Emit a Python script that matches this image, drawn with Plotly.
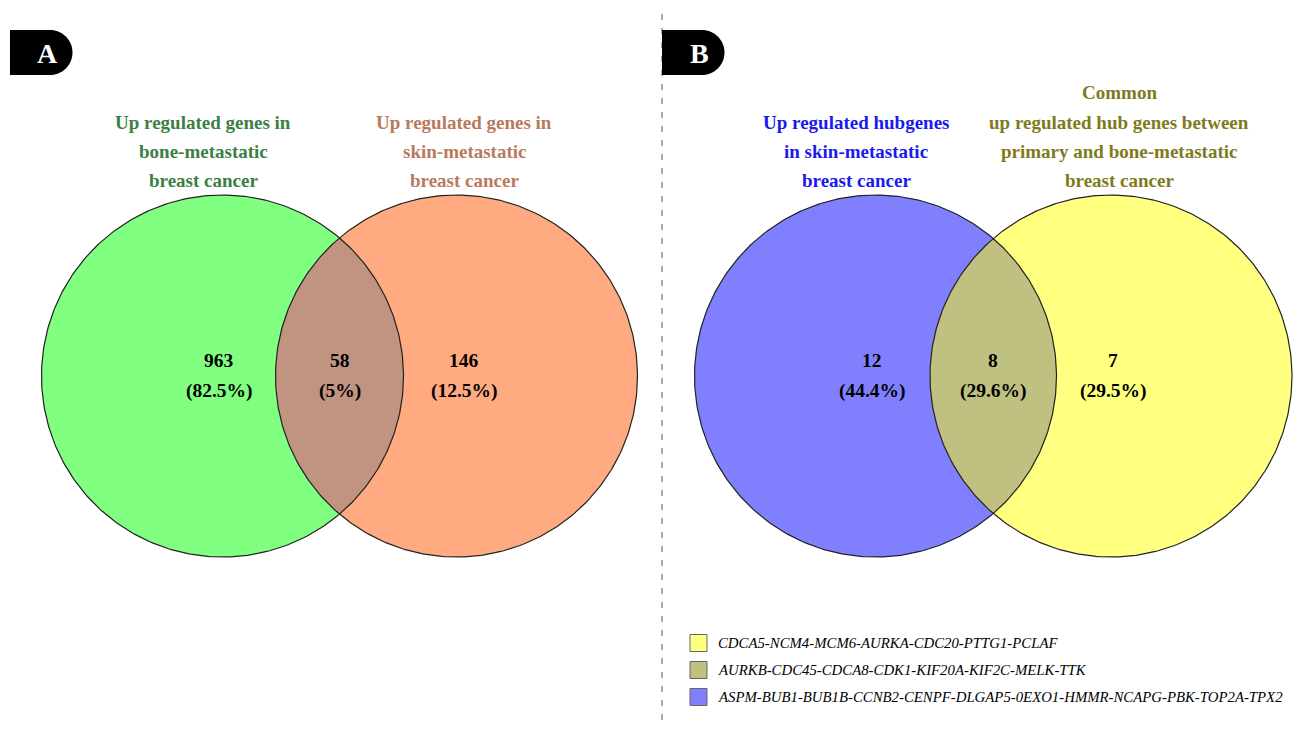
import numpy as np
import plotly.graph_objects as go

# ---------------- data ----------------
setA_names = ["Up regulated genes in<br>bone-metastatic<br>breast cancer",
              "Up regulated genes in<br>skin-metastatic<br>breast cancer"]
setA_counts = [963, 58, 146]
setA_pcts = ["82.5%", "5%", "12.5%"]

setB_names = ["Up regulated hubgenes<br>in skin-metastatic<br>breast cancer",
              "Common<br>up regulated hub genes between<br>primary and bone-metastatic<br>breast cancer"]
setB_counts = [12, 8, 7]
setB_pcts = ["44.4%", "29.6%", "29.5%"]

legend_labels = ["CDCA5-NCM4-MCM6-AURKA-CDC20-PTTG1-PCLAF",
                 "AURKB-CDC45-CDCA8-CDK1-KIF20A-KIF2C-MELK-TTK",
                 "ASPM-BUB1-BUB1B-CCNB2-CENPF-DLGAP5-0EXO1-HMMR-NCAPG-PBK-TOP2A-TPX2"]
legend_colors = ["#ffff80", "#c0c080", "#8080ff"]

panel_letters = ["A", "B"]

# ---------------- layout constants ----------------
W, H = 1301, 731
PAD = 8  # default page body margin
R = 181
CY = 376
panels = [
    dict(c1=222.5, c2=456.5, fills=["#80ff80", "#ffaa80", "#c09480"],
         tcol=["#3b7f45", "#b97a5c"], tx=[203, 464], tys=[[122, 151, 180], [122, 151, 180]],
         nx=[219, 340, 464], names=setA_names, counts=setA_counts, pcts=setA_pcts,
         badge_x=10),
    dict(c1=875.5, c2=1111, fills=["#8080ff", "#ffff80", "#c0c080"],
         tcol=["#1a1aee", "#7f7a1c"], tx=[856, 1119], tys=[[122, 151, 180], [92, 122, 151, 180]],
         nx=[872, 993, 1113], names=setB_names, counts=setB_counts, pcts=setB_pcts,
         badge_x=662),
]

fig = go.Figure()
shapes = []
annotations = []

t = np.linspace(0, 2 * np.pi, 400)

def lens(c1, c2, r, cy):
    d = c2 - c1
    a = np.arccos(d / 2 / r)
    th2 = np.linspace(np.pi - a, np.pi + a, 200)
    th1 = np.linspace(-a, a, 200)
    xs = np.concatenate([c2 + r * np.cos(th2), c1 + r * np.cos(th1)])
    ys = np.concatenate([cy + r * np.sin(th2), cy + r * np.sin(th1)])
    return xs, ys

for p in panels:
    for cx, col in zip([p["c1"], p["c2"]], p["fills"][:2]):
        fig.add_trace(go.Scatter(x=cx + R * np.cos(t), y=CY + R * np.sin(t), mode="lines",
                                 fill="toself", fillcolor=col, line=dict(color="rgba(0,0,0,0)", width=0),
                                 hoverinfo="skip", showlegend=False))
    lx, ly = lens(p["c1"], p["c2"], R, CY)
    fig.add_trace(go.Scatter(x=lx, y=ly, mode="lines", fill="toself", fillcolor=p["fills"][2],
                             line=dict(color="rgba(0,0,0,0)", width=0), hoverinfo="skip", showlegend=False))
    for cx in [p["c1"], p["c2"]]:
        fig.add_trace(go.Scatter(x=cx + R * np.cos(t), y=CY + R * np.sin(t), mode="lines",
                                 line=dict(color="#222222", width=1.2), hoverinfo="skip", showlegend=False))
    for name, col, x, ys in zip(p["names"], p["tcol"], p["tx"], p["tys"]):
        for line, y in zip(name.split("<br>"), ys):
            annotations.append(dict(x=x, y=y, text="<b>%s</b>" % line, showarrow=False,
                                    font=dict(family="Liberation Serif", size=19, color=col),
                                    xanchor="center", yanchor="middle"))
    for x, c, pc in zip(p["nx"], p["counts"], p["pcts"]):
        annotations.append(dict(x=x, y=360, text="<b>%d</b>" % c, showarrow=False,
                                font=dict(family="Liberation Serif", size=19.5, color="black")))
        annotations.append(dict(x=x, y=391, text="<b>(%s)</b>" % pc, showarrow=False,
                                font=dict(family="Liberation Serif", size=19.5, color="black")))

# dashed separator
shapes.append(dict(type="line", x0=662, x1=662, y0=0, y1=740, xref="x", yref="y",
                   line=dict(color="#555555", width=1, dash="6px,8px")))

# panel badges
k = 0.5523
for letter, p in zip(panel_letters, panels):
    x0 = p["badge_x"]
    y0, y1 = 30, 75
    r = (y1 - y0) / 2
    xr = x0 + 40
    cyb = y0 + r
    path = (f"M{x0},{y0} L{xr},{y0} "
            f"C{xr + k * r},{y0} {xr + r},{cyb - k * r} {xr + r},{cyb} "
            f"C{xr + r},{cyb + k * r} {xr + k * r},{y1} {xr},{y1} "
            f"L{x0},{y1} Z")
    shapes.append(dict(type="path", path=path, xref="x", yref="y", fillcolor="black",
                       line=dict(color="black", width=0)))
    annotations.append(dict(x=x0 + 37, y=cyb + 1, text="<b>%s</b>" % letter, showarrow=False,
                            font=dict(family="Liberation Serif", size=28, color="white")))

# gene legend
for i, (lab, col) in enumerate(zip(legend_labels, legend_colors)):
    yc = 643 + i * 27
    shapes.append(dict(type="rect", x0=690, x1=707, y0=yc - 8.5, y1=yc + 8.5, xref="x", yref="y",
                       fillcolor=col, line=dict(color="#666666", width=1)))
    annotations.append(dict(x=716, y=yc, text="<i>%s</i>" % lab, showarrow=False, xanchor="left",
                            font=dict(family="Liberation Serif", size=14.8, color="black")))

fig.update_layout(
    width=W - 2 * PAD, height=H - 2 * PAD, margin=dict(l=0, r=0, t=0, b=0),
    paper_bgcolor="white", plot_bgcolor="white",
    xaxis=dict(range=[PAD, W - PAD], visible=False, fixedrange=True),
    yaxis=dict(range=[H - PAD, PAD], visible=False, fixedrange=True),
    shapes=shapes, annotations=annotations, showlegend=False,
)
fig.write_html("out.html")
